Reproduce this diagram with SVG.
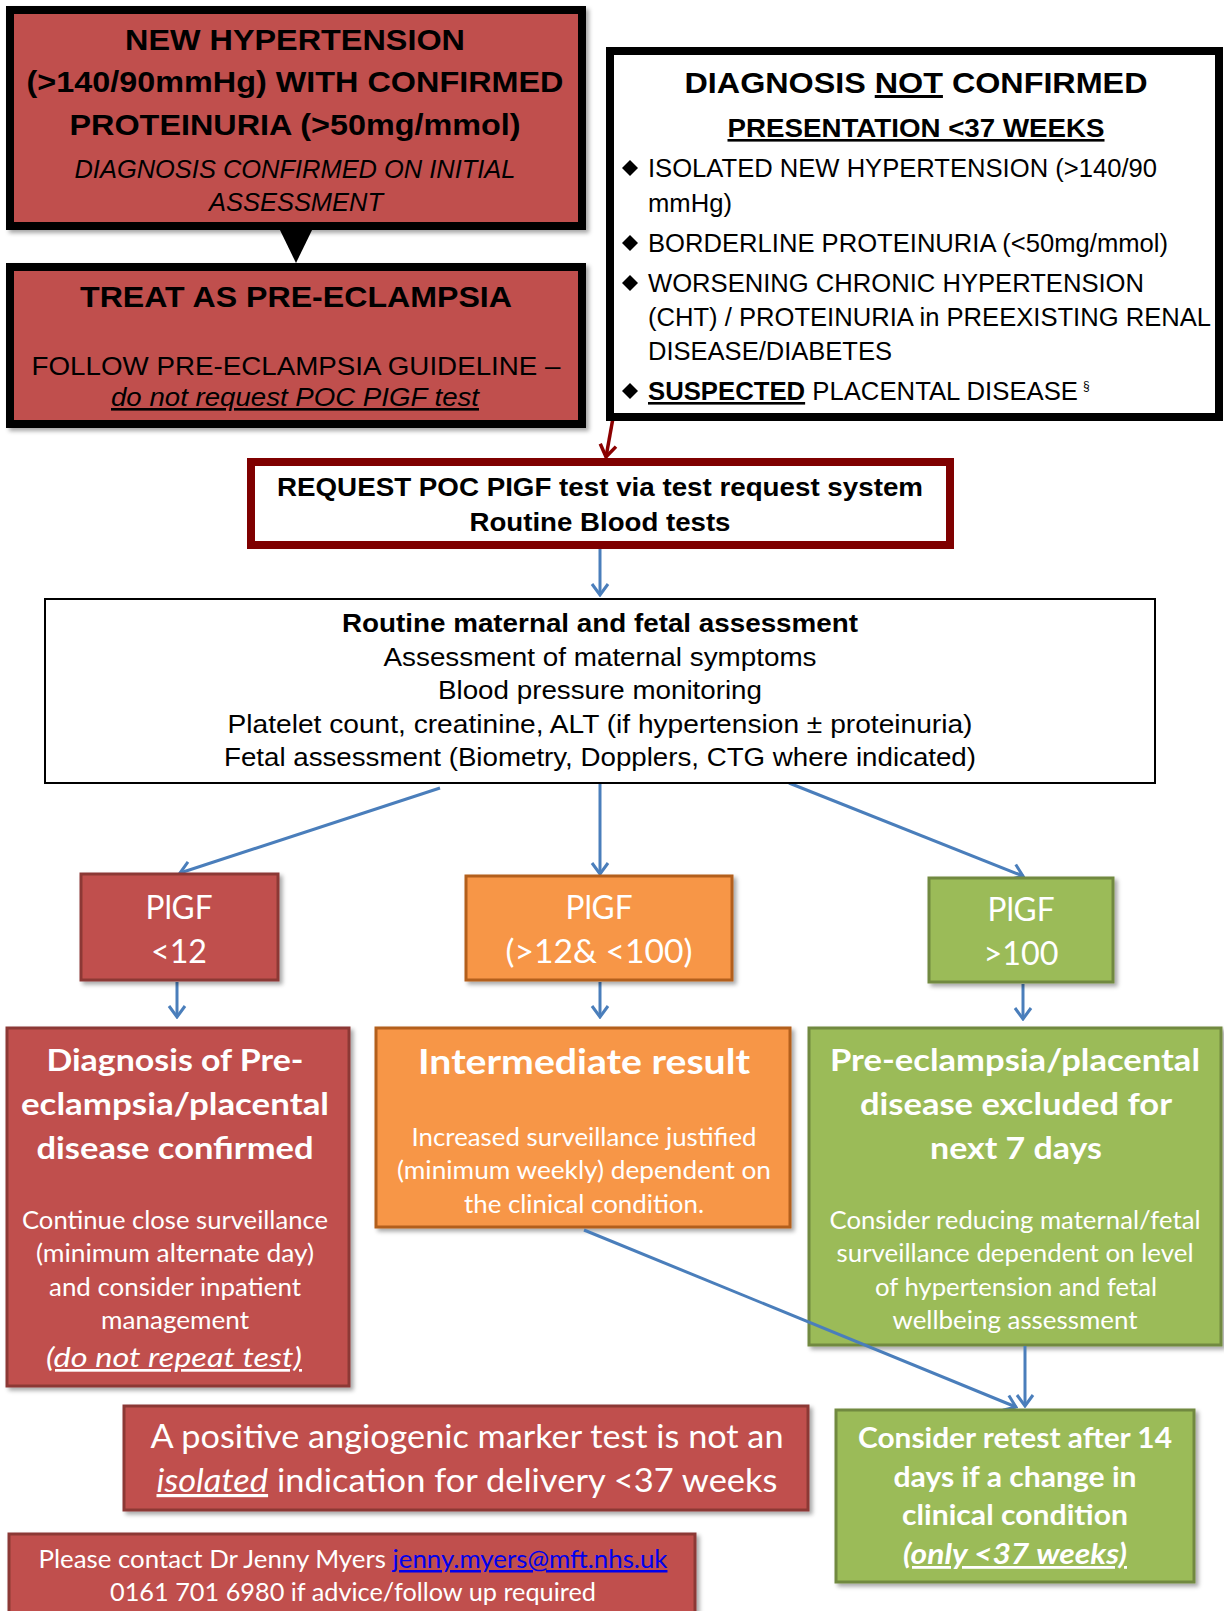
<svg xmlns="http://www.w3.org/2000/svg" width="1224" height="1611" viewBox="0 0 1224 1611">
<defs>
<filter id="sh" x="-5%" y="-5%" width="115%" height="115%"><feDropShadow dx="3" dy="3" stdDeviation="2" flood-color="#000" flood-opacity="0.35"/></filter>
<marker id="ab" viewBox="0 0 20 20" refX="18" refY="10" markerWidth="20" markerHeight="20" markerUnits="userSpaceOnUse" orient="auto">
<path d="M7,2 L18,10 L7,18" fill="none" stroke="#4a7ebb" stroke-width="3"/></marker>
<marker id="ar" viewBox="0 0 20 20" refX="18" refY="10" markerWidth="20" markerHeight="20" markerUnits="userSpaceOnUse" orient="auto">
<path d="M6,2 L18,10 L6,18" fill="none" stroke="#8b0000" stroke-width="3.5"/></marker>
<style>
.a{font-family:"Liberation Sans",Arial,sans-serif;fill:#000}
.c{font-family:Lato,"Open Sans",sans-serif;fill:#fff}
.b{font-weight:bold}
.i{font-style:italic}
.u{text-decoration:underline}
.m{text-anchor:middle}
.red{fill:#c0504d;stroke:#8c3836;stroke-width:3}
.org{fill:#f79646;stroke:#b35f1c;stroke-width:3}
.grn{fill:#9bbb59;stroke:#71893f;stroke-width:3}
.blu{fill:none;stroke:#4a7ebb;stroke-width:3;marker-end:url(#ab)}
</style>
</defs>
<rect width="1224" height="1611" fill="#fff"/>

<g id="connectors">
<polygon points="278,226 314,226 296,263" fill="#000"/>
<line x1="613" y1="418" x2="606" y2="457" stroke="#8b0000" stroke-width="3.5" marker-end="url(#ar)"/>
<line class="blu" x1="600" y1="549" x2="600" y2="595"/>
<line class="blu" x1="440" y1="788" x2="180" y2="873"/>
<line class="blu" x1="600" y1="783" x2="600" y2="874"/>
<line class="blu" x1="789" y1="783" x2="1023" y2="876"/>
<line class="blu" x1="177" y1="982" x2="177" y2="1017"/>
<line class="blu" x1="600" y1="982" x2="600" y2="1017"/>
<line class="blu" x1="1023" y1="984" x2="1023" y2="1019"/>
</g>

<g id="n_confirmed">
<rect x="10" y="10" width="572" height="216" fill="#c0504d" stroke="#000" stroke-width="8" filter="url(#sh)"/>
<text class="a b m" x="295" y="50" font-size="30" textLength="340" lengthAdjust="spacingAndGlyphs">NEW HYPERTENSION</text>
<text class="a b m" x="295" y="92" font-size="30" textLength="537" lengthAdjust="spacingAndGlyphs">(&gt;140/90mmHg) WITH CONFIRMED</text>
<text class="a b m" x="295" y="135" font-size="30" textLength="451" lengthAdjust="spacingAndGlyphs">PROTEINURIA (&gt;50mg/mmol)</text>
<text class="a i m" x="295" y="178" font-size="26" textLength="441" lengthAdjust="spacingAndGlyphs">DIAGNOSIS CONFIRMED ON INITIAL</text>
<text class="a i m" x="296" y="211" font-size="26" textLength="174" lengthAdjust="spacingAndGlyphs">ASSESSMENT</text>
</g>

<g id="n_treat">
<rect x="10" y="267" width="572" height="157" fill="#c0504d" stroke="#000" stroke-width="8" filter="url(#sh)"/>
<text class="a b m" x="296" y="307" font-size="30" textLength="432" lengthAdjust="spacingAndGlyphs">TREAT AS PRE-ECLAMPSIA</text>
<text class="a m" x="296" y="375" font-size="26" textLength="529" lengthAdjust="spacingAndGlyphs">FOLLOW PRE-ECLAMPSIA GUIDELINE –</text>
<text class="a i u m" x="295" y="406" font-size="26" textLength="368" lengthAdjust="spacingAndGlyphs">do not request POC PIGF test</text>
</g>

<g id="n_not_confirmed">
<rect x="610" y="51" width="609" height="366" fill="#fff" stroke="#000" stroke-width="8"/>
<text class="a b m" x="916" y="93" font-size="30" textLength="463" lengthAdjust="spacingAndGlyphs">DIAGNOSIS <tspan class="u">NOT</tspan> CONFIRMED</text>
<text class="a b u m" x="916" y="137" font-size="26" textLength="377" lengthAdjust="spacingAndGlyphs">PRESENTATION &lt;37 WEEKS</text>
<g fill="#000">
<polygon points="630,160 638,168 630,176 622,168"/>
<polygon points="630,235 638,243 630,251 622,243"/>
<polygon points="630,275 638,283 630,291 622,283"/>
<polygon points="630,383 638,391 630,399 622,391"/>
</g>
<text class="a" x="648" y="177" font-size="26" textLength="509" lengthAdjust="spacingAndGlyphs">ISOLATED NEW HYPERTENSION (&gt;140/90</text>
<text class="a" x="648" y="212" font-size="26" textLength="84" lengthAdjust="spacingAndGlyphs">mmHg)</text>
<text class="a" x="648" y="252" font-size="26" textLength="520" lengthAdjust="spacingAndGlyphs">BORDERLINE PROTEINURIA (&lt;50mg/mmol)</text>
<text class="a" x="648" y="292" font-size="26" textLength="496" lengthAdjust="spacingAndGlyphs">WORSENING CHRONIC HYPERTENSION</text>
<text class="a" x="648" y="326" font-size="26" textLength="563" lengthAdjust="spacingAndGlyphs">(CHT) / PROTEINURIA in PREEXISTING RENAL</text>
<text class="a" x="648" y="360" font-size="26" textLength="244" lengthAdjust="spacingAndGlyphs">DISEASE/DIABETES</text>
<text class="a" x="648" y="400" font-size="26" textLength="430" lengthAdjust="spacingAndGlyphs"><tspan class="b u">SUSPECTED</tspan> PLACENTAL DISEASE</text>
<text class="a" x="1083" y="390" font-size="12">§</text>
</g>

<g id="n_request">
<rect x="251" y="462" width="699" height="83" fill="#fff" stroke="#7f0000" stroke-width="8"/>
<text class="a b m" x="600" y="496" font-size="26" textLength="646" lengthAdjust="spacingAndGlyphs">REQUEST POC PIGF test via test request system</text>
<text class="a b m" x="600" y="531" font-size="26" textLength="261" lengthAdjust="spacingAndGlyphs">Routine Blood tests</text>
</g>

<g id="n_assessment">
<rect x="45" y="599" width="1110" height="184" fill="#fff" stroke="#000" stroke-width="2"/>
<text class="a b m" x="600" y="632" font-size="25" textLength="516" lengthAdjust="spacingAndGlyphs">Routine maternal and fetal assessment</text>
<text class="a m" x="600" y="666" font-size="26" textLength="433" lengthAdjust="spacingAndGlyphs">Assessment of maternal symptoms</text>
<text class="a m" x="600" y="699" font-size="26" textLength="324" lengthAdjust="spacingAndGlyphs">Blood pressure monitoring</text>
<text class="a m" x="600" y="733" font-size="26" textLength="745" lengthAdjust="spacingAndGlyphs">Platelet count, creatinine, ALT (if hypertension ± proteinuria)</text>
<text class="a m" x="600" y="766" font-size="26" textLength="752" lengthAdjust="spacingAndGlyphs">Fetal assessment (Biometry, Dopplers, CTG where indicated)</text>
</g>

<g id="n_plgf_low">
<rect class="red" x="81" y="874" width="197" height="106" filter="url(#sh)"/>
<text class="c m" x="179" y="919" font-size="32" textLength="67" lengthAdjust="spacingAndGlyphs">PlGF</text>
<text class="c m" x="179" y="963" font-size="32" textLength="56" lengthAdjust="spacingAndGlyphs">&lt;12</text>
</g>

<g id="n_plgf_mid">
<rect class="org" x="466" y="876" width="266" height="104" filter="url(#sh)"/>
<text class="c m" x="599" y="919" font-size="32" textLength="67" lengthAdjust="spacingAndGlyphs">PlGF</text>
<text class="c m" x="599" y="963" font-size="32" textLength="187" lengthAdjust="spacingAndGlyphs">(&gt;12&amp; &lt;100)</text>
</g>

<g id="n_plgf_high">
<rect class="grn" x="929" y="878" width="184" height="104" filter="url(#sh)"/>
<text class="c m" x="1021" y="921" font-size="32" textLength="67" lengthAdjust="spacingAndGlyphs">PlGF</text>
<text class="c m" x="1021" y="965" font-size="32" textLength="75" lengthAdjust="spacingAndGlyphs">&gt;100</text>
</g>

<g id="n_result_low">
<rect class="red" x="7" y="1028" width="342" height="358" filter="url(#sh)"/>
<text class="c b m" x="175" y="1071" font-size="30" textLength="257" lengthAdjust="spacingAndGlyphs">Diagnosis of Pre-</text>
<text class="c b m" x="175" y="1115" font-size="30" textLength="308" lengthAdjust="spacingAndGlyphs">eclampsia/placental</text>
<text class="c b m" x="175" y="1159" font-size="30" textLength="277" lengthAdjust="spacingAndGlyphs">disease confirmed</text>
<text class="c m" x="175" y="1229" font-size="25" textLength="306" lengthAdjust="spacingAndGlyphs">Continue close surveillance</text>
<text class="c m" x="175" y="1262" font-size="25" textLength="278" lengthAdjust="spacingAndGlyphs">(minimum alternate day)</text>
<text class="c m" x="175" y="1296" font-size="25" textLength="252" lengthAdjust="spacingAndGlyphs">and consider inpatient</text>
<text class="c m" x="175" y="1329" font-size="25" textLength="148" lengthAdjust="spacingAndGlyphs">management</text>
<text class="c i u m" x="174" y="1367" font-size="27" textLength="256" lengthAdjust="spacingAndGlyphs">(do not repeat test)</text>
</g>

<g id="n_result_mid">
<rect class="org" x="376" y="1028" width="414" height="199" filter="url(#sh)"/>
<text class="c b m" x="584" y="1074" font-size="35" textLength="332" lengthAdjust="spacingAndGlyphs">Intermediate result</text>
<text class="c m" x="584" y="1146" font-size="25" textLength="345" lengthAdjust="spacingAndGlyphs">Increased surveillance justified</text>
<text class="c m" x="584" y="1179" font-size="25" textLength="374" lengthAdjust="spacingAndGlyphs">(minimum weekly) dependent on</text>
<text class="c m" x="584" y="1213" font-size="25" textLength="240" lengthAdjust="spacingAndGlyphs">the clinical condition.</text>
</g>

<g id="n_result_high">
<rect class="grn" x="809" y="1028" width="412" height="317" filter="url(#sh)"/>
<text class="c b m" x="1015" y="1071" font-size="30" textLength="370" lengthAdjust="spacingAndGlyphs">Pre-eclampsia/placental</text>
<text class="c b m" x="1016" y="1115" font-size="30" textLength="312" lengthAdjust="spacingAndGlyphs">disease excluded for</text>
<text class="c b m" x="1016" y="1159" font-size="30" textLength="172" lengthAdjust="spacingAndGlyphs">next 7 days</text>
<text class="c m" x="1015" y="1229" font-size="25" textLength="371" lengthAdjust="spacingAndGlyphs">Consider reducing maternal/fetal</text>
<text class="c m" x="1015" y="1262" font-size="25" textLength="357" lengthAdjust="spacingAndGlyphs">surveillance dependent on level</text>
<text class="c m" x="1016" y="1296" font-size="25" textLength="282" lengthAdjust="spacingAndGlyphs">of hypertension and fetal</text>
<text class="c m" x="1015" y="1329" font-size="25" textLength="245" lengthAdjust="spacingAndGlyphs">wellbeing assessment</text>
</g>

<g id="connectors_lower">
<line class="blu" x1="584" y1="1230" x2="1016" y2="1407"/>
<line class="blu" x1="1025" y1="1346" x2="1025" y2="1406"/>
</g>

<g id="n_retest">
<rect class="grn" x="836" y="1410" width="358" height="172" filter="url(#sh)"/>
<text class="c b m" x="1015" y="1448" font-size="28" textLength="314" lengthAdjust="spacingAndGlyphs">Consider retest after 14</text>
<text class="c b m" x="1015" y="1487" font-size="28" textLength="243" lengthAdjust="spacingAndGlyphs">days if a change in</text>
<text class="c b m" x="1015" y="1525" font-size="28" textLength="226" lengthAdjust="spacingAndGlyphs">clinical condition</text>
<text class="c b i u m" x="1015" y="1564" font-size="28" textLength="224" lengthAdjust="spacingAndGlyphs">(only &lt;37 weeks)</text>
</g>

<g id="n_positive">
<rect class="red" x="124" y="1406" width="684" height="104" filter="url(#sh)"/>
<text class="c m" x="467" y="1448" font-size="32" textLength="633" lengthAdjust="spacingAndGlyphs">A positive angiogenic marker test is not an</text>
<text class="c m" x="467" y="1492" font-size="32" textLength="621" lengthAdjust="spacingAndGlyphs"><tspan class="i u">isolated</tspan> indication for delivery &lt;37 weeks</text>
</g>

<g id="n_contact">
<rect class="red" x="9" y="1534" width="686" height="90" filter="url(#sh)"/>
<text class="c m" x="353" y="1568" font-size="25" textLength="629" lengthAdjust="spacingAndGlyphs">Please contact Dr Jenny Myers <tspan fill="#0000ee" class="u">jenny.myers@mft.nhs.uk</tspan></text>
<text class="c m" x="353" y="1601" font-size="25" textLength="486" lengthAdjust="spacingAndGlyphs">0161 701 6980 if advice/follow up required</text>
</g>
</svg>
